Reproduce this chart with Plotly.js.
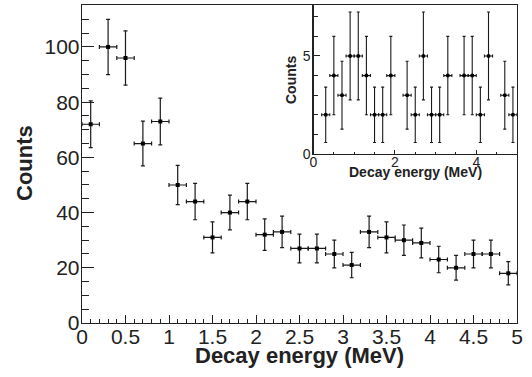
<!DOCTYPE html>
<html>
<head>
<meta charset="utf-8">
<script src="https://cdn.plot.ly/plotly-3.0.1.min.js"></script>
<style>html,body{margin:0;padding:0;background:#fff;}#chart{width:532px;height:377px;}</style>
</head>
<body>
<div id="chart"></div>
<script>
// Main spectrum
const mainEnergy = [0.1,0.3,0.5,0.7,0.9,1.1,1.3,1.5,1.7,1.9,2.1,2.3,2.5,2.7,2.9,3.1,3.3,3.5,3.7,3.9,4.1,4.3,4.5,4.7,4.9];
const mainCounts = [72,100,96,65,73,50,44,31,40,44,32,33,27,27,25,21,33,31,30,29,23,20,25,25,18];
const mainErr    = [8.5,10,9.8,8.1,8.5,7.1,6.6,5.6,6.3,6.6,5.7,5.7,5.2,5.2,5.0,4.6,5.7,5.6,5.5,5.4,4.8,4.5,5.0,5.0,4.2];
const binHalf = 0.1;
// Inset spectrum
const insetEnergy = [0.3,0.5,0.7,0.9,1.1,1.3,1.5,1.7,1.9,2.3,2.5,2.7,2.9,3.1,3.3,3.7,3.9,4.1,4.3,4.7,4.9];
const insetCounts = [2,4,3,5,5,4,2,2,4,3,2,5,2,2,4,4,4,2,5,3,2];
const insetErr    = [1.41,2,1.73,2.24,2.24,2,1.41,1.41,2,1.73,1.41,2.24,1.41,1.41,2,2,2,1.41,2.24,1.73,1.41];

const ink = '#1a1a1a';
const font = 'Liberation Sans, Arial, Helvetica, sans-serif';

const traces = [
  {
    x: mainEnergy, y: mainCounts, type: 'scatter', mode: 'markers',
    marker: {symbol: 'square', size: 4, color: '#000'},
    error_y: {type: 'data', array: mainErr, visible: true, color: ink, thickness: 1.2, width: 2},
    error_x: {type: 'constant', value: binHalf, visible: true, color: ink, thickness: 1.2, width: 2},
    xaxis: 'x', yaxis: 'y', hoverinfo: 'skip'
  },
  {
    x: insetEnergy, y: insetCounts, type: 'scatter', mode: 'markers',
    marker: {symbol: 'circle', size: 4, color: '#000'},
    error_y: {type: 'data', array: insetErr, visible: true, color: ink, thickness: 1.1, width: 1.5},
    error_x: {type: 'constant', value: binHalf, visible: true, color: ink, thickness: 1.1, width: 1.5},
    xaxis: 'x2', yaxis: 'y2', hoverinfo: 'skip'
  }
];

const L = 82, T = 5, W = 435, H = 318;
const px = v => (v - L) / W;
const py = v => (T + H - v) / H;

const layout = {
  width: 532, height: 377,
  margin: {l: L, r: 532 - L - W, t: T, b: 377 - T - H, pad: 0},
  paper_bgcolor: '#fff', plot_bgcolor: '#fff',
  showlegend: false,
  font: {family: font, color: '#222'},
  xaxis: {
    domain: [0, 1], range: [0, 5], anchor: 'y',
    dtick: 0.5, tick0: 0, ticks: 'inside', ticklen: 8, tickwidth: 1, tickcolor: '#222',
    minor: {dtick: 0.1, ticks: 'inside', ticklen: 4.5, tickwidth: 1, tickcolor: '#222', showgrid: false},
    showline: true, linecolor: '#222', linewidth: 1.3, mirror: true,
    showgrid: false, zeroline: false,
    tickfont: {size: 21, family: font, color: '#222'}, ticklabelstandoff: -6
  },
  yaxis: {
    domain: [0, 1], range: [0, 115.2], anchor: 'x',
    dtick: 20, tick0: 0, ticks: 'inside', ticklen: 12, tickwidth: 1, tickcolor: '#222',
    minor: {dtick: 5, ticks: 'inside', ticklen: 7, tickwidth: 1, tickcolor: '#222', showgrid: false},
    showline: true, linecolor: '#222', linewidth: 1.3, mirror: true,
    showgrid: false, zeroline: false,
    tickfont: {size: 21, family: font, color: '#222'}, ticklabelstandoff: -3
  },
  xaxis2: {
    domain: [px(313.5), 1], range: [0, 5], anchor: 'y2',
    dtick: 2, tick0: 0, ticks: 'inside', ticklen: 4, tickwidth: 1, tickcolor: '#222',
    minor: {dtick: 0.5, ticks: 'inside', ticklen: 2, tickwidth: 1, tickcolor: '#222', showgrid: false},
    showline: true, linecolor: '#222', linewidth: 1.1, mirror: true,
    showgrid: false, zeroline: false,
    tickfont: {size: 14, family: font, color: '#222'}, ticklabelstandoff: -5
  },
  yaxis2: {
    domain: [py(154), 1], range: [0, 7.6], anchor: 'x2',
    dtick: 5, tick0: 0, ticks: 'inside', ticklen: 6, tickwidth: 1, tickcolor: '#222',
    minor: {dtick: 1, ticks: 'inside', ticklen: 4, tickwidth: 1, tickcolor: '#222', showgrid: false},
    showline: true, linecolor: '#222', linewidth: 1.1, mirror: true,
    showgrid: false, zeroline: false,
    tickfont: {size: 14, family: font, color: '#222'}, ticklabelstandoff: -1
  },
  annotations: [
    {text: '<b>Decay energy (MeV)</b>', xref: 'paper', yref: 'paper', x: 0.5, y: py(355.5),
     xanchor: 'center', yanchor: 'middle', showarrow: false, font: {size: 22, family: font, color: '#222'}},
    {text: '<b>Counts</b>', xref: 'paper', yref: 'paper', x: px(24), y: py(163), textangle: -90,
     xanchor: 'center', yanchor: 'middle', showarrow: false, font: {size: 22, family: font, color: '#222'}},
    {text: '<b>Decay energy (MeV)</b>', xref: 'paper', yref: 'paper', x: px(415), y: py(172),
     xanchor: 'center', yanchor: 'middle', showarrow: false, font: {size: 14, family: font, color: '#222'}},
    {text: '<b>Counts</b>', xref: 'paper', yref: 'paper', x: px(291), y: py(80), textangle: -90,
     xanchor: 'center', yanchor: 'middle', showarrow: false, font: {size: 14, family: font, color: '#222'}}
  ]
};

Plotly.newPlot('chart', traces, layout, {staticPlot: true, displayModeBar: false});
</script>
</body>
</html>
